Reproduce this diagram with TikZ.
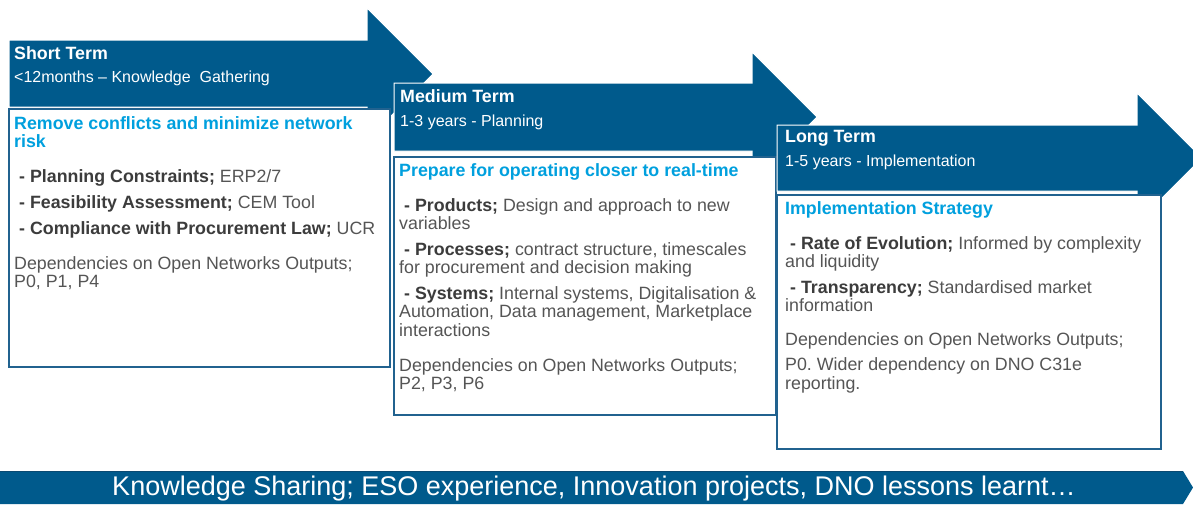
\documentclass[tikz,border=0pt]{standalone}
\usepackage{fontspec}
\setmainfont{Liberation Sans}
\frenchspacing
\definecolor{arrowblue}{HTML}{005A8C}
\definecolor{arrowdark}{HTML}{0A4A72}
\definecolor{boxblue}{HTML}{21628F}
\definecolor{titlecyan}{HTML}{00A0DE}
\definecolor{textgray}{HTML}{555555}
\definecolor{boldgray}{HTML}{3C3C3C}
\tikzset{
  termarrow/.style={fill=arrowblue, draw=white, line width=1pt},
  termbox/.style={draw=boxblue, line width=1.2pt, fill=white},
  headname/.style={anchor=north west, inner sep=0pt, text=white, font=\fontsize{17.8}{20}\selectfont\bfseries},
  headsub/.style={anchor=north west, inner sep=0pt, text=white, font=\fontsize{16}{18}\selectfont},
  boxtitle/.style={anchor=north west, inner sep=0pt, align=left, text=titlecyan, font=\fontsize{17.8}{18}\selectfont\bfseries},
  boxtext/.style={anchor=north west, inner sep=0pt, align=left, text=textgray, font=\fontsize{17.8}{18.5}\selectfont},
}
\newcommand{\itemhead}[1]{\textcolor{boldgray}{\bfseries #1}}
\newcommand{\itemdash}{\hspace*{5pt}\textcolor{boldgray}{\bfseries -} }
\begin{document}
\begin{tikzpicture}[x=1pt, y=-1pt]
  \useasboundingbox (0,0) rectangle (1193,504);
  \clip (0,0) rectangle (1193,504);

  % short term
  \draw [termarrow] (9,40)--(367,40)--(367,8)--(433,74)--(367,140)--(367,107)--(9,107)--cycle;
  \draw [termbox] (9,109) rectangle (390,367);
  \node [headname] (st-name) at (14,46) {Short Term};
  \node [headsub] (st-sub) at (14,71) {<12months – Knowledge\ \ Gathering};
  \node [boxtitle] (st-title) at (14,116) {Remove conflicts and minimize network\\risk};
  \node [boxtext] (st-items) at (14,169) {\itemdash\itemhead{Planning Constraints;} ERP2/7\\[7.5pt]
    \itemdash\itemhead{Feasibility Assessment;} CEM Tool\\[7.5pt]
    \itemdash\itemhead{Compliance with Procurement Law;} UCR};
  \node [boxtext] (st-deps) at (14,256) {Dependencies on Open Networks Outputs;\\P0, P1, P4};

  % medium term
  \draw [termarrow] (394,83)--(752,83)--(752,52)--(817,117)--(752,182)--(752,151)--(394,151)--cycle;
  \draw [termbox] (394,157) rectangle (776,415);
  \node [headname] (mt-name) at (400,89) {Medium Term};
  \node [headsub] (mt-sub) at (400,115) {1-3 years - Planning};
  \node [boxtitle] (mt-title) at (399,163) {Prepare for operating closer to real-time};
  \node [boxtext] (mt-items) at (399,198) {\itemdash\itemhead{Products;} Design and approach to new\\variables\\[7pt]
    \itemdash\itemhead{Processes;} contract structure, timescales\\for procurement and decision making\\[7pt]
    \itemdash\itemhead{Systems;} Internal systems, Digitalisation \&\\Automation, Data management, Marketplace\\interactions};
  \node [boxtext] (mt-deps) at (399,358) {Dependencies on Open Networks Outputs;\\P2, P3, P6};

  % long term
  \draw [termarrow] (777,125)--(1137,125)--(1137,93)--(1202,158)--(1137,223)--(1137,191)--(777,191)--cycle;
  \draw [termbox] (777,195) rectangle (1161,449);
  \node [headname] (lt-name) at (785,130) {Long Term};
  \node [headsub] (lt-sub) at (785,155) {1-5 years - Implementation};
  \node [boxtitle] (lt-title) at (785,201) {Implementation Strategy};
  \node [boxtext] (lt-items) at (785,236) {\itemdash\itemhead{Rate of Evolution;} Informed by complexity\\and liquidity\\[7pt]
    \itemdash\itemhead{Transparency;} Standardised market\\information};
  \node [boxtext] (lt-deps) at (785,332) {Dependencies on Open Networks Outputs;\\[7pt]P0. Wider dependency on DNO C31e\\reporting.};

  % knowledge sharing banner
  \fill [arrowblue] (0,471)--(1183,471)--(1193,487.5)--(1183,504)--(0,504)--cycle;
  \draw [arrowdark, line width=1pt] (0,471.5)--(1183,471.5);
  \node [text=white, font=\fontsize{27}{30}\selectfont] (ks-banner) at (594,488.5) {Knowledge Sharing; ESO experience, Innovation projects, DNO lessons learnt…};

\end{tikzpicture}
\end{document}
